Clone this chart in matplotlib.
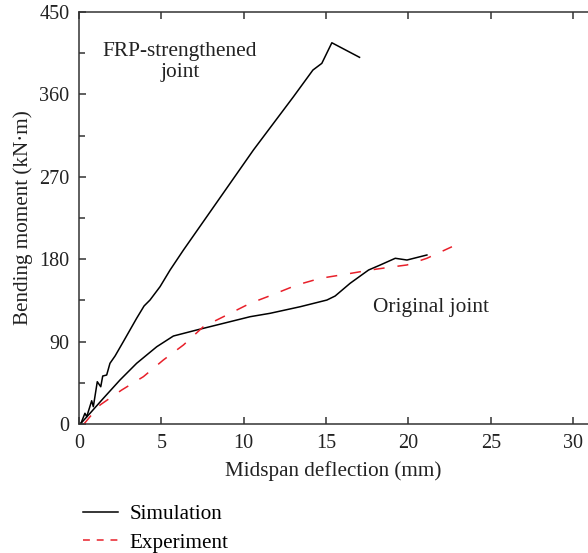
import matplotlib
matplotlib.use("Agg")
import matplotlib.pyplot as plt
from matplotlib.ticker import MultipleLocator

plt.rcParams['font.family'] = ['Liberation Serif', 'DejaVu Serif']

# FRP-strengthened joint, simulation
frp_x = [0, 0.12, 0.36, 0.47, 0.77, 0.87, 1.11, 1.32, 1.44, 1.68, 1.88, 2.19, 2.69, 3.50,
         3.95, 4.31, 4.92, 5.53, 6.34, 10.59, 13.02, 14.2, 14.74, 15.35, 17.03]
frp_y = [0, 0.8, 11.7, 8, 25.4, 18.9, 46.2, 40.7, 52.4, 53.5, 66.3, 74.3, 89.9, 115.5,
         128.9, 135.4, 150, 168.2, 190, 299.3, 357.5, 386.6, 393.9, 416.4, 400.5]

# Original joint, simulation
orig_x = [0, 0.12, 0.67, 1.48, 2.49, 3.5, 4.72, 5.73, 7.15, 10.39, 11.6, 13.43, 15.05,
          15.55, 16.46, 17.58, 18.29, 19.2, 19.91, 21.12]
orig_y = [0, 0.8, 11.7, 28.1, 48.1, 66.3, 84.4, 96.1, 102.7, 117.2, 120.9, 128.1, 135.4,
          139.8, 153.7, 168.2, 173.7, 181, 179.1, 184.6]

# Original joint, experiment
exp_x = [0.3, 0.67, 1.28, 2.59, 3.91, 5.12, 6.34, 7.55, 8.77, 10.39, 11.6, 13.22, 14.64,
         16.26, 17.68, 19.1, 19.91, 21.12, 22.64]
exp_y = [0, 8, 20.8, 37.1, 51.7, 69.9, 86.3, 106.3, 117.2, 131.8, 140.1, 151.8, 159.1,
         163.8, 168.2, 171.8, 173.7, 181, 193.6]

x_ticks = [0, 5, 10, 15, 20, 25, 30]
y_ticks = [0, 90, 180, 270, 360, 450]

fig = plt.figure(figsize=(5.88, 5.53), dpi=100)
ax = fig.add_axes([79/588, 1 - 424/553, 1 - 79/588, (424 - 12)/553])

l1, = ax.plot(frp_x, frp_y, color='black', lw=1.1, label='Simulation')
ax.plot(orig_x, orig_y, color='black', lw=1.1)
l2, = ax.plot(exp_x, exp_y, color='#e8202a', lw=1.1, ls=(0, (7.2, 8.5)), label='Experiment')

ax.set_xlim(0, 30.9)
ax.set_ylim(0, 450)
ax.set_xticks(x_ticks)
ax.set_yticks(y_ticks)
ax.yaxis.set_minor_locator(MultipleLocator(45))
ax.spines['right'].set_visible(False)
for s in ['left', 'bottom', 'top']:
    ax.spines[s].set_linewidth(1.1)
    ax.spines[s].set_color('#333333')
ax.tick_params(which='both', direction='in', width=1.1, top=True, right=False,
               colors='#333333')
ax.tick_params(which='major', length=5, labelsize=14.5, labelcolor='#222222')
ax.tick_params(which='minor', length=4.5)
ax.tick_params(axis='x', pad=7)
ax.tick_params(axis='y', pad=7)
ax.set_xlabel('Midspan deflection (mm)', fontsize=15.2, color='#222222')
ax.set_ylabel('Bending moment (kN·m)', fontsize=15.2, color='#222222')
ax.xaxis.set_label_coords(0.5, -(461 - 424) / 412)
ax.yaxis.set_label_coords(-(79 - 33) / 509, 0.5)

ax.text((180 - 79) / 82.3 * 5, 395, 'FRP-strengthened\njoint', ha='center', va='center',
        fontsize=15.4, linespacing=1.15, color='#222222')
ax.text((431 - 79) / 82.3 * 5, 127, 'Original joint', ha='center', va='center',
        fontsize=15.4, color='#222222')

leg = fig.legend([l1, l2], ['Simulation', 'Experiment'], loc='upper left',
                 bbox_to_anchor=(75/588, 1 - 496/553), frameon=False, fontsize=15.2,
                 handlelength=1.65, handletextpad=0.55, labelspacing=0.42, borderaxespad=0)
leg.get_lines()[1].set_dashes((4.5, 4.5))

fig.savefig('out.png', dpi=100)
